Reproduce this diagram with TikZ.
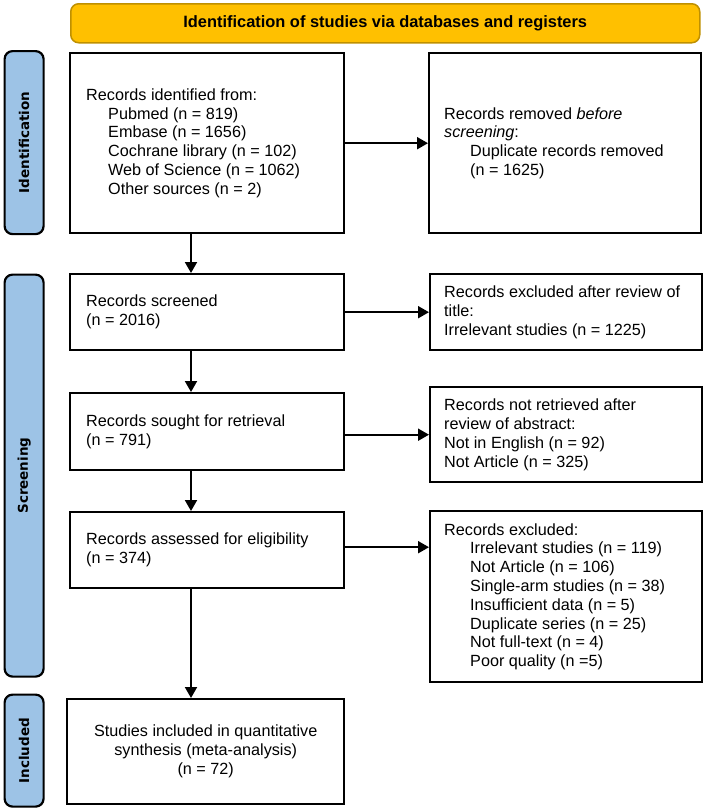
\documentclass[tikz,border=0pt]{standalone}
\usepackage{fontspec}
\setmainfont{Liberation Sans}
\newfontfamily\barfont{DejaVu Sans}
\usetikzlibrary{arrows.meta}
\definecolor{titlefill}{HTML}{FFC000}
\definecolor{titledraw}{HTML}{BF9000}
\definecolor{barfill}{HTML}{9DC3E6}
\begin{document}
\begin{tikzpicture}[x=1pt,y=-1pt,
  box/.style={draw=black,line width=2.4pt,fill=white,inner sep=0pt,anchor=north west},
  txt/.style={anchor=west,align=left,inner sep=0pt,font=\fontsize{16.2}{18.8}\selectfont},
  ctxt/.style={align=center,inner sep=0pt,font=\fontsize{16.2}{19}\selectfont},
  sidebar/.style={draw=black,line width=2.2pt,fill=barfill,rounded corners=8pt,inner sep=0pt,anchor=north west},
  sidelabel/.style={rotate=90,inner sep=0pt,font=\barfont\bfseries\fontsize{13.5}{16}\selectfont},
  titlebar/.style={draw=titledraw,line width=1.5pt,fill=titlefill,rounded corners=8pt,inner sep=0pt,anchor=north west},
  arr/.style={line width=2pt,-{Triangle[length=11pt,width=12pt]}}
]
\useasboundingbox (0,0) rectangle (706,809);

% title bar
\node[titlebar,minimum width=629pt,minimum height=39pt] (title) at (70,3) {};
\node[inner sep=0pt,font=\bfseries\fontsize{16.4}{19}\selectfont] (titletxt) at (title.center) {Identification of studies via databases and registers};

% side bars
\node[sidebar,minimum width=39pt,minimum height=183pt] (idbar) at (3.5,50) {};
\node[sidelabel] (idlab) at (idbar.center) {Identification};
\node[sidebar,minimum width=39pt,minimum height=402pt] (scbar) at (3.5,273.5) {};
\node[sidelabel] (sclab) at (scbar.center) {Screening};
\node[sidebar,minimum width=39pt,minimum height=112pt] (inbar) at (3.5,693.5) {};
\node[sidelabel] (inlab) at (inbar.center) {Included};

% boxes
\node[box,minimum width=274pt,minimum height=180pt] (b1) at (69,52) {};
\node[txt] (b1t) at ([xshift=17pt]b1.west) {Records identified from:\\
\hspace*{22pt}Pubmed (n = 819)\\
\hspace*{22pt}Embase (n = 1656)\\
\hspace*{22pt}Cochrane library (n = 102)\\
\hspace*{22pt}Web of Science (n = 1062)\\
\hspace*{22pt}Other sources (n = 2)};

\node[box,minimum width=272pt,minimum height=180pt] (rem) at (428,52) {};
\node[txt] (remt) at ([xshift=16pt]rem.west) {Records removed \textit{before}\\
\textit{screening}:\\
\hspace*{26pt}Duplicate records removed\\
\hspace*{26pt}(n = 1625)};

\node[box,minimum width=274pt,minimum height=76pt] (scr) at (69,273) {};
\node[txt] (scrt) at ([xshift=17pt]scr.west) {Records screened\\(n = 2016)};

\node[box,minimum width=272pt,minimum height=76pt] (ext) at (429,273) {};
\node[txt] (extt) at ([xshift=15pt]ext.west) {Records excluded after review of\\title:\\Irrelevant studies (n = 1225)};

\node[box,minimum width=274pt,minimum height=77pt] (sou) at (69,392) {};
\node[txt] (sout) at ([xshift=17pt]sou.west) {Records sought for retrieval\\(n = 791)};

\node[box,minimum width=272pt,minimum height=95pt] (nret) at (429,386) {};
\node[txt] (nrett) at ([xshift=15pt]nret.west) {Records not retrieved after\\review of abstract:\\Not in English (n = 92)\\Not Article (n = 325)};

\node[box,minimum width=274pt,minimum height=76pt] (ass) at (69,511) {};
\node[txt] (asst) at ([xshift=17pt]ass.west) {Records assessed for eligibility\\(n = 374)};

\node[box,minimum width=272pt,minimum height=171pt] (exc) at (429,510) {};
\node[txt] (exct) at ([xshift=15pt]exc.west) {Records excluded:\\
\hspace*{26pt}Irrelevant studies (n = 119)\\
\hspace*{26pt}Not Article (n = 106)\\
\hspace*{26pt}Single-arm studies (n = 38)\\
\hspace*{26pt}Insufficient data (n = 5)\\
\hspace*{26pt}Duplicate series (n = 25)\\
\hspace*{26pt}Not full-text (n = 4)\\
\hspace*{26pt}Poor quality (n =5)};

\node[box,minimum width=277pt,minimum height=105pt] (inc) at (66,698) {};
\node[ctxt] (inct) at (inc.center) {Studies included in quantitative\\synthesis (meta-analysis)\\(n = 72)};

% connectors
\coordinate (ax) at (191,0);
\draw[arr] (b1.east) -- (rem.west);
\draw[arr] (scr.east) -- (ext.west);
\draw[arr] (sou.east |- nret.west) -- (nret.west);
\draw[arr] ([yshift=3pt]ass.east) -- ([yshift=3pt]ass.east -| exc.west);
\draw[arr] (b1.south -| ax) -- (scr.north -| ax);
\draw[arr] (scr.south -| ax) -- (sou.north -| ax);
\draw[arr] (sou.south -| ax) -- (ass.north -| ax);
\draw[arr] (ass.south -| ax) -- (inc.north -| ax);
\end{tikzpicture}
\end{document}
